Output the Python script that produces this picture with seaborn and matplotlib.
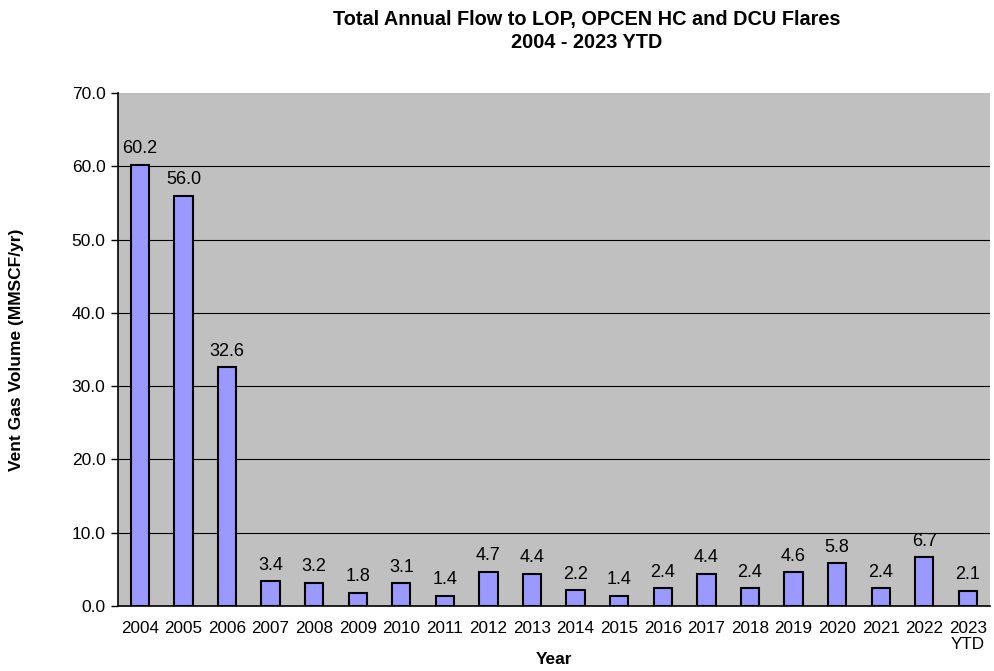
import pandas as pd
import matplotlib.pyplot as plt
import seaborn as sns
import numpy as np

# Data
years = ['2004', '2005', '2006', '2007', '2008', '2009', '2010', '2011', '2012', '2013',
         '2014', '2015', '2016', '2017', '2018', '2019', '2020', '2021', '2022', '2023\nYTD']
volumes = [60.2, 56.0, 32.6, 3.4, 3.2, 1.8, 3.1, 1.4, 4.7, 4.4,
           2.2, 1.4, 2.4, 4.4, 2.4, 4.6, 5.8, 2.4, 6.7, 2.1]

df = pd.DataFrame({'Year': years, 'Volume': volumes})

sns.set_style('white')
plt.rcParams['font.family'] = ['Liberation Sans', 'DejaVu Sans']
plt.rcParams['text.color'] = 'black'
plt.rcParams['axes.labelcolor'] = 'black'
plt.rcParams['xtick.color'] = 'black'
plt.rcParams['ytick.color'] = 'black'

fig = plt.figure(figsize=(9.95, 6.71), dpi=100)
ax = fig.add_axes([0.1186, 0.0969, 0.876, 0.7645])
ax.set_facecolor('#C0C0C0')

sns.barplot(data=df, x='Year', y='Volume', color='#9999FF', edgecolor='black',
            linewidth=1.5, width=0.42, saturation=1, ax=ax)

ax.set_ylim(0, 70)
ax.set_xlim(-0.5, len(years) - 0.5)
ax.set_yticks(np.arange(0, 71, 10))
ax.set_yticklabels([f'{v:.1f}' for v in np.arange(0, 71, 10)], fontsize=12.5)
ax.yaxis.grid(True, color='black', linewidth=0.8)
ax.set_axisbelow(True)
# no line along the top of the plot area
ax.yaxis.get_gridlines()[-1].set_visible(False)

# x ticks between categories, labels at centres
ax.set_xticks(np.arange(len(years)))
ax.set_xticklabels(years, fontsize=12.3, linespacing=1.05, va='top')
ax.tick_params(axis='x', which='major', length=0, pad=11)
ax.set_xticks(np.arange(-0.5, len(years)), minor=True)
ax.tick_params(axis='x', which='minor', length=5, color='black', width=1)
ax.tick_params(axis='y', length=5, color='black', width=1, left=True, pad=4)

for s in ['top', 'right']:
    ax.spines[s].set_visible(False)
for s in ['left', 'bottom']:
    ax.spines[s].set_color('black')
    ax.spines[s].set_linewidth(1.2)

for i, v in enumerate(volumes):
    ax.text(i, v + 1.0, f'{v:.1f}', ha='center', va='bottom', fontsize=13)

ax.set_xlabel('Year', fontsize=12.5, fontweight='bold', labelpad=0)
ax.set_ylabel('Vent Gas Volume (MMSCF/yr)', fontsize=12.5, fontweight='bold', labelpad=34)

fig.text(0.59, 0.954, 'Total Annual Flow to LOP, OPCEN HC and DCU Flares\n2004 - 2023 YTD',
         ha='center', va='center', fontsize=14.3, fontweight='bold', linespacing=1.25)

fig.savefig('out.png', dpi=100)
